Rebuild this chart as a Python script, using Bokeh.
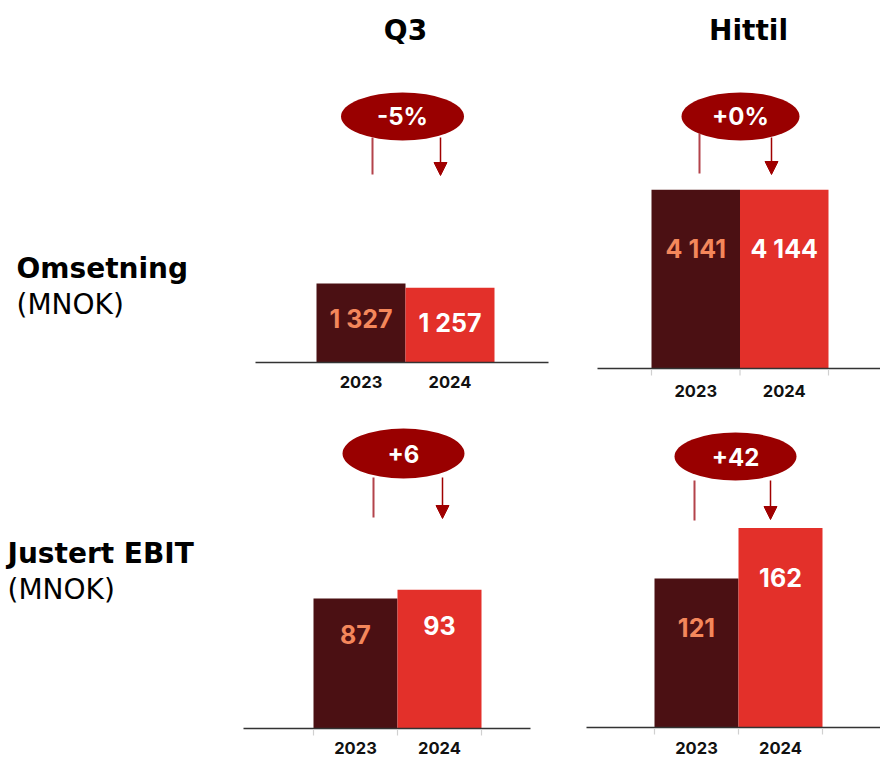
from bokeh.plotting import figure
from bokeh.models import Range1d, ColumnDataSource, Arrow, NormalHead
from bokeh.layouts import row, column
from bokeh.core.properties import value
from bokeh.embed import file_html
from bokeh.resources import INLINE

# ---------------- data ----------------
years = ["2023", "2024"]
omsetning_q3 = [1327, 1257]
omsetning_hittil = [4141, 4144]
ebit_q3 = [87, 93]
ebit_hittil = [121, 162]
omsetning_q3_labels = ["1 327", "1 257"]
omsetning_hittil_labels = ["4 141", "4 144"]
ebit_q3_labels = ["87", "93"]
ebit_hittil_labels = ["121", "162"]
changes = ["-5%", "+0%", "+6", "+42"]
column_titles = ["Q3", "Hittil"]
row_titles = ["Omsetning", "Justert EBIT"]
unit_label = "(MNOK)"

# ---------------- styles ----------------
BAR_COLORS = ["#4b1013", "#e3302a"]
VAL_COLORS = ["#f4875b", "#ffffff"]
ELLIPSE_COLOR = "#990000"
LEFT_LINE_COLOR = "#b3434b"
ARROW_COLOR = "#a00000"
NUM_FONT = value("Inter")
TITLE_FONT = value("DejaVu Sans")


def panel(W, H, base_y, scale, bar_left, bar_w, values, labels, label_off,
          line_x, ticks, year_off, ell, change, left_line, right_arrow,
          header=None, row_label=None):
    p = figure(width=W, height=H, x_range=Range1d(0, W), y_range=Range1d(H, 0),
               output_backend="svg", toolbar_location=None, min_border=0,
               x_axis_type=None, y_axis_type=None, outline_line_color=None,
               background_fill_color="white", border_fill_color="white")
    p.extra_y_ranges = {"val": Range1d(start=-(H - base_y) / scale, end=base_y / scale)}

    centers = [bar_left + bar_w * (i + 0.5) for i in range(len(values))]
    src = ColumnDataSource(dict(x=centers, top=values, label=labels, year=years,
                                color=BAR_COLORS, tcolor=VAL_COLORS, zero=[0, 0]))
    p.vbar(x="x", top="top", bottom=0, width=bar_w, fill_color="color",
           line_color=None, y_range_name="val", source=src)
    # baseline
    p.segment(x0=[line_x[0]], y0=[0], x1=[line_x[1]], y1=[0], y_range_name="val",
              line_color="#333333", line_width=1.5)
    if ticks:
        edges = [bar_left + bar_w * i for i in range(len(values) + 1)]
        p.segment(x0=edges, y0=[base_y + 1] * len(edges), x1=edges,
                  y1=[base_y + 7] * len(edges), line_color="#d0d0d0", line_width=1.2)
    # value labels
    p.text(x="x", y="top", text="label", y_range_name="val", y_offset=label_off,
           text_align="center", text_baseline="middle", text_font=NUM_FONT,
           text_font_style="bold", text_font_size="25px", text_color="tcolor",
           source=src)
    # year labels
    p.text(x="x", y="zero", text="year", y_range_name="val", y_offset=year_off,
           text_align="center", text_baseline="middle", text_font=NUM_FONT,
           text_font_style="bold", text_font_size="16.5px", text_color="#111111",
           source=src)
    # change bubble
    cx, cy, ew, eh = ell
    p.ellipse(x=[cx], y=[cy], width=[ew], height=[eh], width_units="screen",
              height_units="screen", fill_color=ELLIPSE_COLOR, line_color=None)
    p.text(x=[cx], y=[cy], text=[change], text_align="center", text_baseline="middle",
           text_font=NUM_FONT, text_font_style="bold", text_font_size="24px",
           text_color="white")
    lx, ly0, ly1 = left_line
    p.segment(x0=[lx], y0=[ly0], x1=[lx], y1=[ly1], line_color=LEFT_LINE_COLOR,
              line_width=2)
    ax, ay0, ay1 = right_arrow
    p.add_layout(Arrow(x_start=ax, y_start=ay0, x_end=ax, y_end=ay1,
                       line_color=ARROW_COLOR, line_width=1.5,
                       end=NormalHead(size=13, fill_color=ARROW_COLOR,
                                      line_color=ARROW_COLOR, line_width=1)))
    if header is not None:
        hx, hy, htxt = header
        p.text(x=[hx], y=[hy], text=[htxt], text_align="center", text_baseline="middle",
               text_font=TITLE_FONT, text_font_style="bold", text_font_size="28px",
               text_color="#000000")
    if row_label is not None:
        rx, ry, rtxt = row_label
        p.text(x=[rx], y=[ry], text=[rtxt], text_align="left", text_baseline="middle",
               text_font=TITLE_FONT, text_font_style="bold", text_font_size="28px",
               text_color="#000000")
        p.text(x=[rx], y=[ry + 36], text=[unit_label], text_align="left",
               text_baseline="middle", text_font=TITLE_FONT, text_font_style="normal",
               text_font_size="28px", text_color="#000000")
    return p


tl = panel(568, 404, 362, 79 / 1327, 316, 89, omsetning_q3, omsetning_q3_labels, 35,
           (255, 548), False, 19, (402, 116, 123, 48), changes[0],
           (372, 137, 174), (440, 137, 175),
           header=(405, 30, column_titles[0]), row_label=(16, 268, row_titles[0]))
tr = panel(312, 404, 368, 178.7 / 4141, 83, 88.5, omsetning_hittil, omsetning_hittil_labels, 59,
           (29, 312), True, 22, (172, 116, 118, 48), changes[1],
           (131, 133, 173), (203, 137, 174),
           header=(180, 30, column_titles[1]))
bl = panel(568, 354, 324, 1.493, 313, 84, ebit_q3, ebit_q3_labels, 36,
           (243, 530), True, 19, (403, 49, 122, 50), changes[2],
           (373, 73, 113), (442, 73, 114),
           row_label=(7, 149, row_titles[1]))
br = panel(312, 354, 323, 1.231, 86, 84, ebit_hittil, ebit_hittil_labels, 49,
           (18, 312), True, 20, (167, 52, 122, 48), changes[3],
           (126, 76, 116), (202, 76, 115))

layout = column(row(tl, tr), row(bl, br))

with open("out.html", "w") as f:
    f.write(file_html(layout, INLINE))
